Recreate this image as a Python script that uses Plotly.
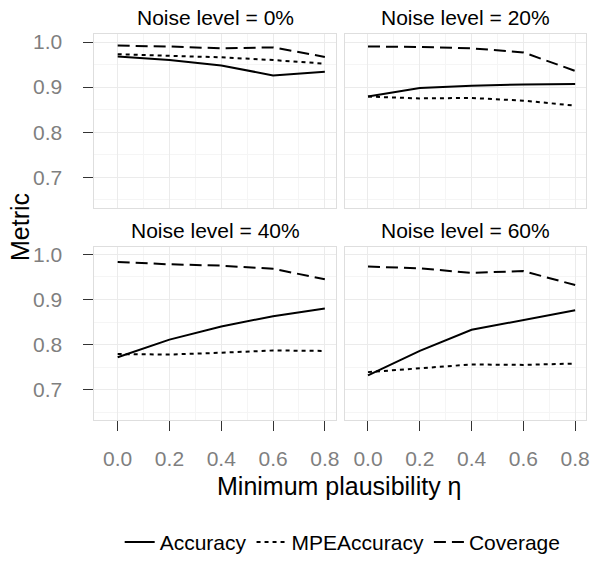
import plotly.graph_objects as go

eta = [0.0, 0.2, 0.4, 0.6, 0.8]
panels = ["Noise level = 0%", "Noise level = 20%", "Noise level = 40%", "Noise level = 60%"]

accuracy = [
    [0.968, 0.960, 0.948, 0.926, 0.934],
    [0.879, 0.898, 0.903, 0.906, 0.907],
    [0.772, 0.811, 0.840, 0.863, 0.880],
    [0.732, 0.786, 0.833, 0.855, 0.876],
]
mpe_accuracy = [
    [0.973, 0.970, 0.966, 0.960, 0.952],
    [0.879, 0.875, 0.876, 0.870, 0.859],
    [0.779, 0.778, 0.782, 0.787, 0.786],
    [0.739, 0.748, 0.756, 0.755, 0.758],
]
coverage = [
    [0.992, 0.990, 0.986, 0.988, 0.967],
    [0.990, 0.989, 0.986, 0.977, 0.936],
    [0.983, 0.978, 0.975, 0.968, 0.945],
    [0.973, 0.969, 0.959, 0.963, 0.932],
]

x_ticks = [0.0, 0.2, 0.4, 0.6, 0.8]
x_ticklabels = ["0.0", "0.2", "0.4", "0.6", "0.8"]
y_ticks = [0.7, 0.8, 0.9, 1.0]
y_ticklabels = ["0.7", "0.8", "0.9", "1.0"]

W, H = 597, 563
FONT = "Liberation Sans, Arial, sans-serif"

# panel pixel boxes (left, right, top, bottom)
boxes = [(95, 338, 31, 208), (347, 590, 31, 208), (95, 338, 248, 425), (347, 590, 248, 425)]

fig = go.Figure()
series = [
    ("Accuracy", accuracy, "solid"),
    ("MPEAccuracy", mpe_accuracy, "4px,4px"),
    ("Coverage", coverage, "12px,6px"),
]

for i in range(4):
    ax = "" if i == 0 else str(i + 1)
    for name, data, dash in series:
        fig.add_trace(go.Scatter(
            x=eta, y=data[i], mode="lines", name=name,
            line=dict(color="black", width=2, dash=dash),
            xaxis="x" + ax, yaxis="y" + ax,
            showlegend=(i == 0),
        ))
    l, r, t, b = boxes[i]
    row_bottom = i >= 2
    col_left = i % 2 == 0
    xa = dict(
        domain=[l / W, r / W], range=[-0.09, 0.842],
        tickvals=x_ticks, ticktext=x_ticklabels,
        showticklabels=row_bottom, ticks="outside" if row_bottom else "",
        ticklen=10, tickcolor="#333333", tickwidth=1,
        ticklabelstandoff=10,
        tickfont=dict(family=FONT, size=21, color="#7f7f7f"),
        showgrid=True, gridcolor="#ebebeb", gridwidth=1,
        minor=dict(dtick=0.1, tick0=0.1, showgrid=True, gridcolor="#f5f5f5", gridwidth=1),
        showline=True, linecolor="#dedede", linewidth=1, mirror=True,
        zeroline=False, anchor="y" + ax, fixedrange=True,
    )
    ya = dict(
        domain=[1 - b / H, 1 - t / H], range=[0.633, 1.017],
        tickvals=y_ticks, ticktext=y_ticklabels,
        showticklabels=col_left, ticks="outside" if col_left else "",
        ticklen=10, tickcolor="#333333", tickwidth=1,
        ticklabelstandoff=17,
        tickfont=dict(family=FONT, size=21, color="#7f7f7f"),
        showgrid=True, gridcolor="#ebebeb", gridwidth=1,
        minor=dict(dtick=0.05, tick0=0.65, showgrid=True, gridcolor="#f5f5f5", gridwidth=1),
        showline=True, linecolor="#dedede", linewidth=1, mirror=True,
        zeroline=False, anchor="x" + ax, fixedrange=True,
    )
    fig.layout["xaxis" + ax] = xa
    fig.layout["yaxis" + ax] = ya
    fig.add_annotation(
        x=(l + r) / 2 / W, y=1 - (t - 17) / H, xref="paper", yref="paper",
        text=panels[i], showarrow=False, xanchor="center", yanchor="middle",
        font=dict(family=FONT, size=21, color="black"),
    )

fig.add_annotation(
    x=20 / W, y=1 - 228 / H, xref="paper", yref="paper", text="Metric",
    textangle=-90, showarrow=False, xanchor="center", yanchor="middle",
    font=dict(family=FONT, size=25, color="black"),
)
fig.add_annotation(
    x=342 / W, y=1 - 493 / H, xref="paper", yref="paper", text="Minimum plausibility η",
    showarrow=False, xanchor="center", yanchor="middle",
    font=dict(family=FONT, size=25, color="black"),
)

fig.update_layout(
    width=W, height=H, margin=dict(l=0, r=0, t=0, b=0),
    paper_bgcolor="white", plot_bgcolor="white",
    showlegend=True,
    legend=dict(orientation="h", x=345 / W, y=1 - 550 / H, xanchor="center", yanchor="middle",
                font=dict(family=FONT, size=21, color="black"), itemwidth=30,
                tracegroupgap=0, bgcolor="rgba(0,0,0,0)"),
)

fig.write_html("out.html", config={"displayModeBar": False},
               post_script="document.body.style.margin='0';")
